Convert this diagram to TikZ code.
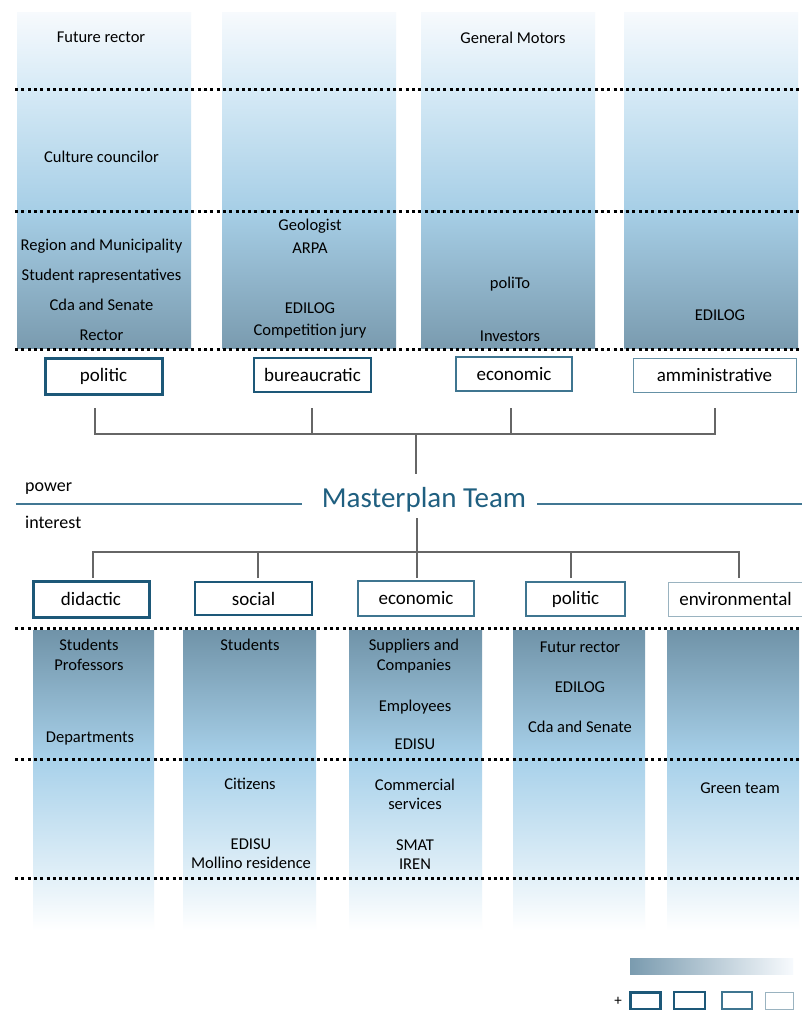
\documentclass[tikz,border=0pt]{standalone}
\usepackage{fontspec}
\setmainfont{Carlito}
\definecolor{c0}{HTML}{F7FAFD}
\definecolor{c1}{HTML}{D6EAF6}
\definecolor{c2}{HTML}{A6CEE6}
\definecolor{c3}{HTML}{7A9BAF}
\definecolor{d0}{HTML}{7093A8}
\definecolor{d1}{HTML}{A8D1EA}
\definecolor{d2}{HTML}{E2F0F8}
\definecolor{boxc}{HTML}{1D5878}
\definecolor{boxl}{HTML}{3F7590}
\definecolor{boxg}{HTML}{9AB3C0}
\definecolor{teal}{HTML}{1F5F80}
\begin{document}
\begin{tikzpicture}[x=1pt,y=-1pt,
  txt/.style={font=\fontsize{16.5}{18}\selectfont, anchor=base, inner sep=0pt, text=black},
  side/.style={font=\fontsize{18}{20}\selectfont, anchor=base west, inner sep=0pt, text=black},
  dotline/.style={line width=3pt, dash pattern=on 3pt off 3.3pt, black},
  conn/.style={draw=black!60, line width=1.1pt},
  mpline/.style={draw=teal!85, line width=1.6pt},
  box/.style={draw=boxc, fill=white, inner sep=0pt, font=\fontsize{19}{21}\selectfont, text=black},
  b1/.style={box, line width=3pt},
  b2/.style={box, line width=2.3pt},
  b3/.style={box, draw=boxl, line width=1.5pt},
  b4/.style={box, draw=boxl!80, line width=1pt},
  b5/.style={box, draw=boxg, line width=1pt}]
\useasboundingbox (0,0) rectangle (802,1010);
\fill[white] (0,0) rectangle (802,1010);

% top columns
\foreach \a/\b in {17/191, 222/396, 421/595, 624/798} {
  \shade[top color=c0, bottom color=c1] (\a,12) rectangle (\b,89.5);
  \shade[top color=c1, bottom color=c2] (\a,89) rectangle (\b,211.5);
  \shade[top color=c2, bottom color=c3] (\a,211) rectangle (\b,348);
}
% bottom columns
\foreach \a/\b in {33/154, 183/316, 349/482, 513/645, 667/799} {
  \shade[top color=d0, bottom color=d1] (\a,630) rectangle (\b,759.5);
  \shade[top color=d1, bottom color=d2] (\a,759) rectangle (\b,878.5);
  \shade[top color=d2, bottom color=white] (\a,878) rectangle (\b,930);
}

% dotted separators
\foreach \y in {89, 211, 349, 628, 759, 878}
  \draw[dotline] (15,\y) -- (802,\y);

% top column texts
\node[txt] (a1) at (101,42) {Future rector};
\node[txt] (a2) at (101.5,162) {Culture councilor};
\node[txt] (a3) at (101.5,250) {Region and Municipality};
\node[txt] (a4) at (101.5,280) {Student rapresentatives};
\node[txt] (a5) at (101.5,310) {Cda and Senate};
\node[txt] (a6) at (101.5,340) {Rector};
\node[txt] (b1) at (310,230) {Geologist};
\node[txt] (b2) at (310,253) {ARPA};
\node[txt] (b3) at (310,313) {EDILOG};
\node[txt] (b4) at (310,335) {Competition jury};
\node[txt] (c1) at (513,43) {General Motors};
\node[txt] (c2) at (510,288) {poliTo};
\node[txt] (c3) at (510,341) {Investors};
\node[txt] (e1) at (720,320) {EDILOG};

% power boxes
\node[b1, minimum width=117pt, minimum height=36pt] (tp1) at (103.5,376) {politic};
\node[b2, minimum width=117pt, minimum height=34pt] (tp2) at (312.5,375) {bureaucratic};
\node[b3, minimum width=116pt, minimum height=34pt] (tp3) at (514,374) {economic};
\node[b4, minimum width=163pt, minimum height=34pt] (tp4) at (714.5,375) {amministrative};

% top tree
\coordinate (t1) at (95,408);
\coordinate (t2) at (312,408);
\coordinate (t3) at (511,408);
\coordinate (t4) at (715,408);
\coordinate (th) at (416,434);
\coordinate (mt) at (416,474);
\draw[conn] (t1) |- (th);
\draw[conn] (t2) |- (th);
\draw[conn] (t3) |- (th);
\draw[conn] (t4) |- (th);
\draw[conn] (th) -- (mt);

% Masterplan
\node[font=\fontsize{29}{31}\selectfont, text=teal, inner sep=0pt, anchor=base] (mp) at (424,507) {Masterplan Team};
\coordinate (ml1) at (16,504);
\coordinate (ml2) at (302,504);
\coordinate (mr1) at (537,504);
\coordinate (mr2) at (802,504);
\draw[mpline] (ml1) -- (ml2);
\draw[mpline] (mr1) -- (mr2);
\node[side] (pw) at (25,491) {power};
\node[side] (it) at (25,528) {interest};

% bottom tree
\coordinate (mb) at (417,518);
\coordinate (bh) at (417,552);
\coordinate (q1) at (93,578);
\coordinate (q2) at (258,578);
\coordinate (q3) at (417,578);
\coordinate (q4) at (571,578);
\coordinate (q5) at (739,578);
\draw[conn] (mb) -- (q3);
\draw[conn] (q1) |- (bh);
\draw[conn] (q2) |- (bh);
\draw[conn] (q4) |- (bh);
\draw[conn] (q5) |- (bh);

% interest boxes
\node[b1, minimum width=116pt, minimum height=36pt] (bp1) at (91,599) {didactic};
\node[b2, minimum width=117pt, minimum height=33pt] (bp2) at (253.5,598.5) {social};
\node[b3, minimum width=116pt, minimum height=35pt] (bp3) at (416,598.5) {economic};
\node[b3, minimum width=99pt, minimum height=34pt] (bp4) at (575.5,599) {politic};
\node[b5, minimum width=135pt, minimum height=34pt] (bp5) at (735.5,599) {environmental};

% bottom column texts
\node[txt] (f1) at (89,650) {Students};
\node[txt] (f2) at (89,670) {Professors};
\node[txt] (f3) at (90,742) {Departments};
\node[txt] (g1) at (250,650) {Students};
\node[txt] (g2) at (250,789) {Citizens};
\node[txt] (g3) at (251,849) {EDISU};
\node[txt] (g4) at (251,868) {Mollino residence};
\node[txt] (h1) at (414,650) {Suppliers and};
\node[txt] (h2) at (414,670) {Companies};
\node[txt] (h3) at (415,711) {Employees};
\node[txt] (h4) at (415,749) {EDISU};
\node[txt] (h5) at (415,790) {Commercial};
\node[txt] (h6) at (415,809) {services};
\node[txt] (h7) at (415,850) {SMAT};
\node[txt] (h8) at (415,869) {IREN};
\node[txt] (k1) at (580,652) {Futur rector};
\node[txt] (k2) at (580,692) {EDILOG};
\node[txt] (k3) at (580,732) {Cda and Senate};
\node[txt] (m1) at (740,793) {Green team};

% legend
\shade[left color=c3, right color=c0] (630,958) rectangle (793,974);
\node[font=\fontsize{15}{16}\selectfont, inner sep=0pt, text=black] (plus) at (618,1001) {+};
\node[b1, minimum width=30pt, minimum height=17pt] (l1) at (645,1000.5) {};
\node[b2, minimum width=31pt, minimum height=17pt] (l2) at (689.5,1000.5) {};
\node[b3, minimum width=30pt, minimum height=17pt] (l3) at (737,1000.5) {};
\node[b5, minimum width=28pt, minimum height=17pt] (l4) at (779,1000.5) {};
\end{tikzpicture}
\end{document}
